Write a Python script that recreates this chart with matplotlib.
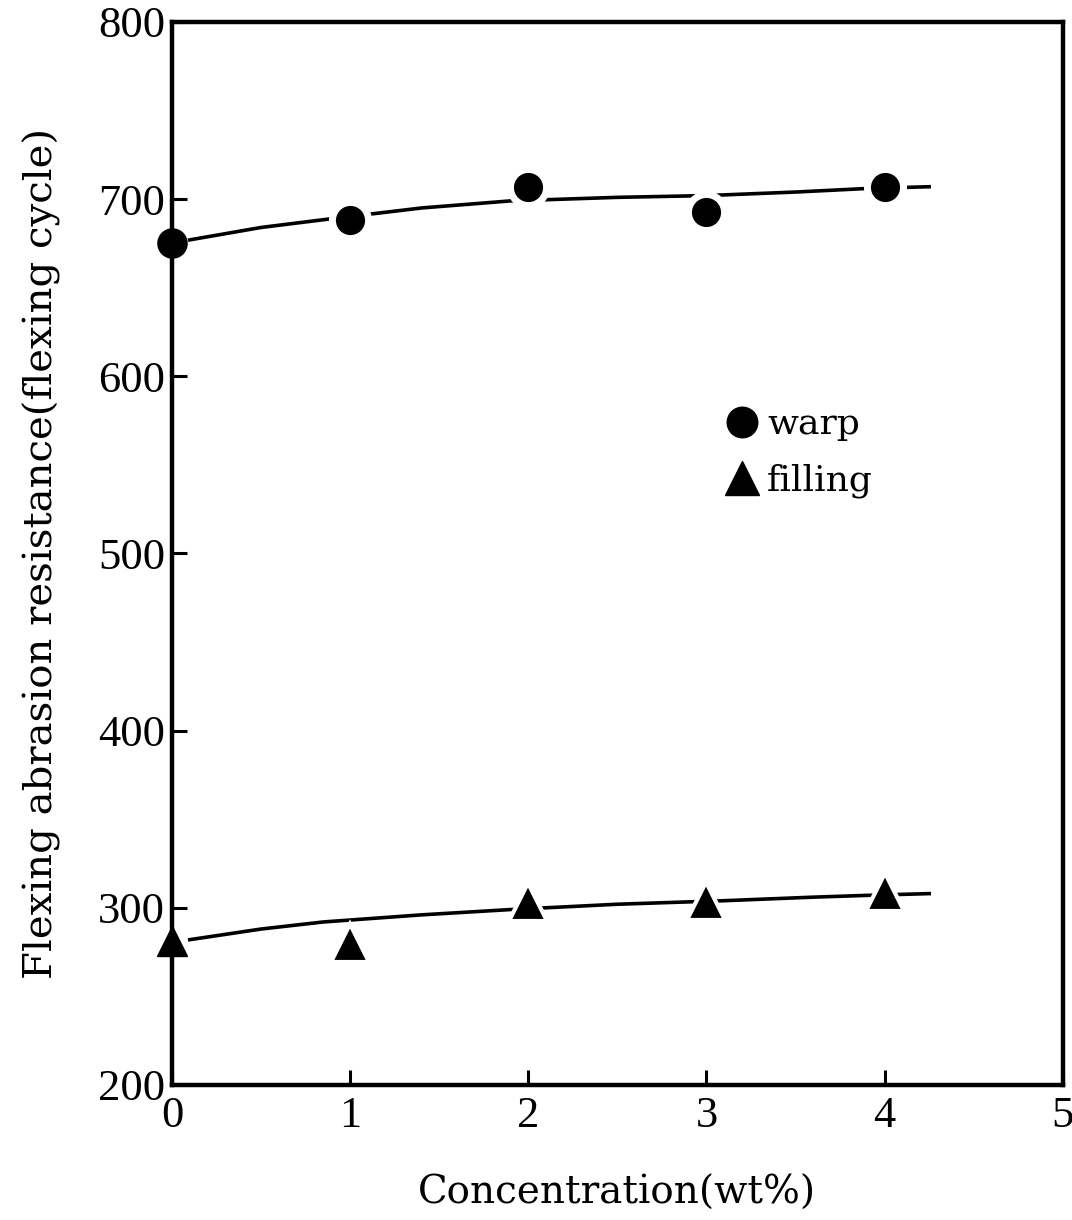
import matplotlib
matplotlib.use("Agg")
import matplotlib.pyplot as plt
import matplotlib.lines as mlines

plt.rcParams['font.family'] = ['Liberation Serif', 'DejaVu Serif']

# measured points
conc = [0, 1, 2, 3, 4]
warp = [675, 688, 707, 693, 707]
filling = [281, 280, 303, 304, 309]

# hand-drawn trend curves
warp_curve_x = [0.1, 0.5, 0.9, 1.4, 1.9, 2.5, 3.0, 3.5, 3.9, 4.25]
warp_curve_y = [677, 684, 689, 695, 699, 701, 702, 704, 706, 707]
fill_curve_x = [0.1, 0.5, 0.85, 1.4, 1.9, 2.5, 3.1, 3.6, 3.9, 4.25]
fill_curve_y = [282, 288, 292, 296, 299, 302, 304, 306, 307, 308]

xticks = [0, 1, 2, 3, 4, 5]
yticks = [200, 300, 400, 500, 600, 700, 800]

label_font = ['DejaVu Serif']

fig = plt.figure(figsize=(10.72, 12.2), dpi=100)
ax = fig.add_axes([0.1604, 0.1107, 0.831, 0.8713])

ax.plot(warp_curve_x, warp_curve_y, color='black', lw=2.6, zorder=2)
ax.plot(fill_curve_x, fill_curve_y, color='black', lw=2.6, zorder=2)

# markers sitting on the axis keep the spine; the rest get a white rim
# (the rim eats into the marker, so those are drawn a bit bigger)
ax.plot(conc[:1], warp[:1], 'o', color='black', ms=21, clip_on=False, zorder=4)
ax.plot(conc[:1], filling[:1], '^', color='black', ms=22, clip_on=False, zorder=4)
ax.plot(conc[1:], warp[1:], 'o', color='black', ms=26, mec='white', mew=5,
        clip_on=False, zorder=3)
ax.plot(conc[1:], filling[1:], '^', color='black', ms=27, mec='white', mew=3,
        clip_on=False, zorder=3)

ax.set_xlim(0, 5)
ax.set_ylim(200, 800)
ax.set_xticks(xticks)
ax.set_yticks(yticks)
ax.tick_params(direction='in', length=11, width=2.2, labelsize=32, pad=8)
ax.tick_params(axis='y', pad=5)
for s in ax.spines.values():
    s.set_linewidth(3.2)

ax.set_xlabel('Concentration(wt%)', fontsize=28, labelpad=28, family=label_font)
ax.set_ylabel('Flexing abrasion resistance(flexing cycle)', fontsize=29,
              family=label_font)
ax.yaxis.set_label_coords(-0.125, 0.5)

h_warp = mlines.Line2D([], [], color='black', marker='o', ls='none', ms=22)
h_fill = mlines.Line2D([], [], color='black', marker='^', ls='none', ms=24)
ax.legend([h_warp, h_fill], ['warp', 'filling'], loc='upper left',
          bbox_to_anchor=(0.575, 0.668), frameon=False,
          prop={'family': label_font, 'size': 26},
          handletextpad=0.0, labelspacing=0.62, handlelength=1.4)

fig.savefig('out.png', dpi=100)
